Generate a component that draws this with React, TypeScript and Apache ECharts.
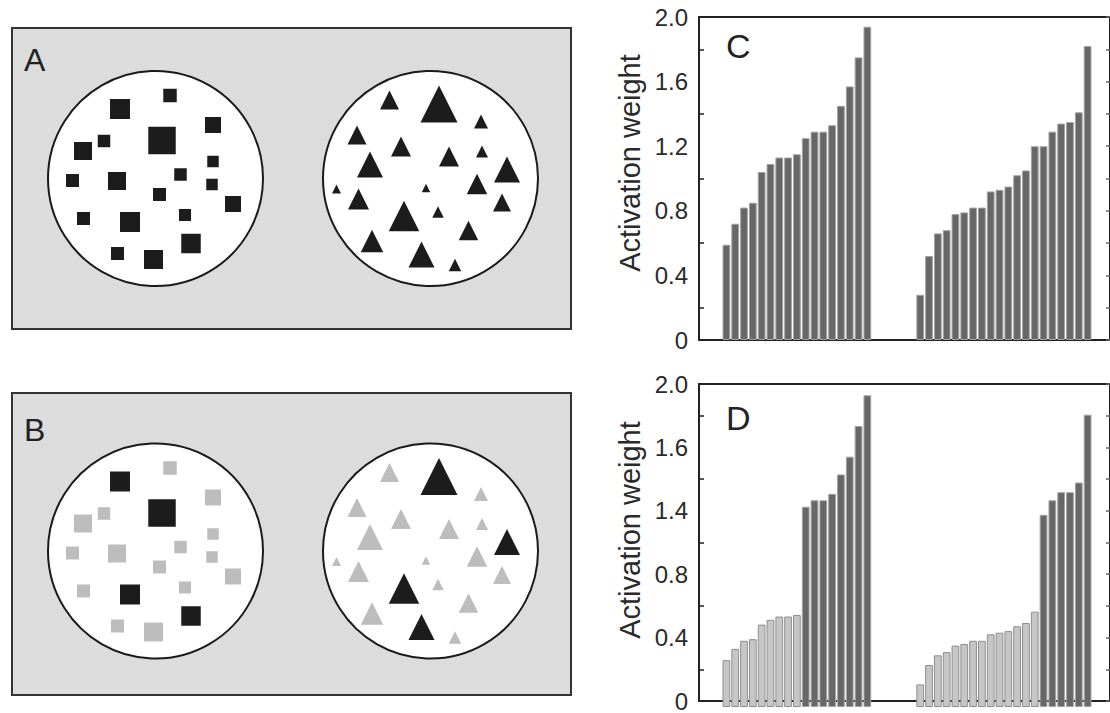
import React, { useEffect, useRef } from "react";
import * as echarts from "echarts";

// ---------- Data ----------
const cSquareUnits = ["s1","s2","s3","s4","s5","s6","s7","s8","s9","s10","s11","s12","s13","s14","s15","s16","s17"];
const cTriangleUnits = ["t1","t2","t3","t4","t5","t6","t7","t8","t9","t10","t11","t12","t13","t14","t15","t16","t17","t18","t19","t20"];
const gapSlots = ["gap1","gap2","gap3","gap4","gap5"];

// Panel C: activation weights, sorted
const cSquareWeights = [0.59, 0.72, 0.82, 0.85, 1.04, 1.09, 1.13, 1.13, 1.15, 1.25, 1.29, 1.29, 1.33, 1.45, 1.57, 1.75, 1.94];
const cTriangleWeights = [0.28, 0.52, 0.66, 0.68, 0.78, 0.79, 0.82, 0.82, 0.92, 0.93, 0.95, 1.02, 1.05, 1.2, 1.2, 1.29, 1.34, 1.35, 1.41, 1.82];

// Panel D: low (grey) and high (dark) activation weights
const dSquareLow = [0.29, 0.36, 0.41, 0.42, 0.51, 0.54, 0.56, 0.56, 0.57];
const dSquareHigh = [1.24, 1.28, 1.28, 1.32, 1.44, 1.55, 1.74, 1.93];
const dTriangleLow = [0.14, 0.26, 0.32, 0.34, 0.38, 0.39, 0.41, 0.41, 0.45, 0.46, 0.47, 0.5, 0.52, 0.59];
const dTriangleHigh = [1.19, 1.28, 1.33, 1.33, 1.39, 1.81];

// Tick labels as printed
const cTickLabels = ["0", "0.4", "0.8", "1.2", "1.6", "2.0"];
const dTickLabels = ["0", "0.4", "0.8", "1.4", "1.6", "2.0"];

const yTitle = "Activation weight";

// ---------- Schematic stimuli (illustration geometry, relative to circle centre) ----------
// [dx, dy, size, highlighted-in-B]
const squares: [number, number, number, number][] = [
  [-35.5, -69.5, 20, 1], [14.5, -83, 13.5, 0], [57.5, -53.5, 16, 0], [6.5, -38, 27.5, 1],
  [-72.5, -27.5, 18, 0], [-51.5, -37.5, 12.5, 0], [57.5, -17, 11.5, 0], [-83, 2, 13, 0],
  [-38.5, 2.5, 18, 0], [25, -4, 12.5, 0], [56.5, 6, 11.5, 0], [4, 16, 13, 0],
  [77.5, 25.5, 16, 0], [-72, 40, 13, 0], [-25.5, 43.5, 20, 1], [29.5, 36.5, 12, 0],
  [35.5, 65, 19.5, 1], [-38, 75, 13, 0], [-2, 81, 19, 0],
];
const triangles: [number, number, number, number][] = [
  [-41, -78.5, 19, 0], [8.5, -74.5, 37, 1], [50.5, -57, 14, 0], [-73.5, -43.5, 19, 0],
  [-29.5, -32, 20, 0], [18.5, -22, 20, 0], [51.5, -27, 12, 0], [-60.5, -14, 26, 0],
  [76.5, -9, 26, 1], [-94, 10.5, 9, 0], [-4.5, 9.5, 8.5, 0], [46.5, 5.5, 20.5, 0],
  [-72, 20.5, 21, 0], [71.5, 24, 18, 0], [-26.5, 37.5, 30.5, 1], [7.5, 33.5, 11.5, 0],
  [38, 52, 19.5, 0], [-58.5, 62.5, 22.5, 0], [-9, 76, 26, 1], [24.5, 86.5, 12.5, 0],
];

const FONT = "Liberation Sans, Arial, Helvetica, sans-serif";
const BLACK = "#1c1c1c";
const GREY_SHAPE = "#bdbdbd";
const DARK_BAR = "#676767";
const LIGHT_BAR = "#c6c6c6";

function panelGraphics(top: number, height: number, label: string, labelY: number, cy: number, highlightMode: boolean) {
  const els: any[] = [];
  els.push({
    type: "rect",
    shape: { x: 12, y: top, width: 559, height },
    style: { fill: "#dcdcdc", stroke: "#333", lineWidth: 2 },
  });
  els.push({
    type: "text",
    x: 24,
    y: labelY,
    style: { text: label, font: `32px ${FONT}`, fill: "#222", align: "left", verticalAlign: "middle" },
  });
  const leftC = [155.5, cy];
  const rightC = [430.5, cy];
  els.push({ type: "circle", shape: { cx: leftC[0], cy: leftC[1], r: 107.5 }, style: { fill: "#fff", stroke: "#1a1a1a", lineWidth: 2 } });
  els.push({ type: "circle", shape: { cx: rightC[0], cy: rightC[1], r: 107.5 }, style: { fill: "#fff", stroke: "#1a1a1a", lineWidth: 2 } });
  squares.forEach(([dx, dy, s, hi]) => {
    const fill = !highlightMode || hi ? BLACK : GREY_SHAPE;
    els.push({
      type: "rect",
      shape: { x: leftC[0] + dx - s / 2, y: leftC[1] + dy - s / 2, width: s, height: s },
      style: { fill },
    });
  });
  triangles.forEach(([dx, dy, s, hi]) => {
    const fill = !highlightMode || hi ? BLACK : GREY_SHAPE;
    const cx = rightC[0] + dx;
    const cyy = rightC[1] + dy;
    els.push({
      type: "polygon",
      shape: { points: [[cx, cyy - s / 2], [cx + s / 2, cyy + s / 2], [cx - s / 2, cyy + s / 2]] },
      style: { fill },
    });
  });
  return els;
}

export default function App() {
  const ref = useRef<HTMLDivElement>(null);

  useEffect(() => {
    if (!ref.current) return;
    const chart = echarts.init(ref.current, undefined, { renderer: "svg" });

    const categories = [...cSquareUnits, ...gapSlots, ...cTriangleUnits];
    const gapDash = gapSlots.map(() => "-");
    const cData = [...cSquareWeights, ...gapDash, ...cTriangleWeights];
    const dLight = [
      ...dSquareLow, ...dSquareHigh.map(() => "-"), ...gapDash,
      ...dTriangleLow, ...dTriangleHigh.map(() => "-"),
    ];
    const dDark = [
      ...dSquareLow.map(() => "-"), ...dSquareHigh, ...gapDash,
      ...dTriangleLow.map(() => "-"), ...dTriangleHigh,
    ];

    const frameTop = [17, 384];
    const frameH = 323;

    const grids: any[] = [];
    const xAxes: any[] = [];
    const yAxes: any[] = [];
    const axisLineStyle = { color: "#222", width: 2 };

    frameTop.forEach((t, i) => {
      const labels = i === 0 ? cTickLabels : dTickLabels;
      grids.push({ left: 699, top: t, width: 412, height: frameH });
      grids.push({ left: 722, top: t, width: 370, height: frameH });
      const fg = i * 2;
      const bg = i * 2 + 1;
      xAxes.push({
        gridIndex: fg, type: "value", min: 0, max: 1, position: "bottom",
        axisLine: { show: true, onZero: false, lineStyle: axisLineStyle },
        axisTick: { show: false }, axisLabel: { show: false }, splitLine: { show: false },
      });
      xAxes.push({
        gridIndex: fg, type: "value", min: 0, max: 1, position: "top",
        axisLine: { show: true, onZero: false, lineStyle: axisLineStyle },
        axisTick: { show: false }, axisLabel: { show: false }, splitLine: { show: false },
      });
      xAxes.push({
        gridIndex: bg, type: "category", data: categories,
        axisLine: { show: false }, axisTick: { show: false }, axisLabel: { show: false }, splitLine: { show: false },
      });
      yAxes.push({
        gridIndex: fg, type: "value", min: 0, max: 2, interval: 0.4, position: "left",
        axisLine: { show: true, onZero: false, lineStyle: axisLineStyle },
        axisTick: { show: false, inside: true },
        minorTick: { show: true, splitNumber: 2, length: 5, lineStyle: { color: "#222", width: 1.5 } },
        axisLabel: {
          show: true, margin: 11, fontSize: 24, fontFamily: FONT, color: "#2a2a2a",
          formatter: (v: number) => labels[Math.round(v / 0.4)] ?? "",
        },
        splitLine: { show: false },
      });
      yAxes.push({
        gridIndex: fg, type: "value", min: 0, max: 2, interval: 0.2, position: "right",
        axisLine: { show: true, onZero: false, lineStyle: axisLineStyle },
        axisTick: { show: true, inside: true, length: 4, lineStyle: { color: "#666", width: 1.5 } },
        axisLabel: { show: false }, splitLine: { show: false },
      });
      yAxes.push({
        gridIndex: bg, type: "value", min: 0, max: 2,
        axisLine: { show: false }, axisTick: { show: false }, axisLabel: { show: false }, splitLine: { show: false },
      });
    });

    const barBase = {
      type: "bar",
      barCategoryGap: "12%",
      barGap: "-100%",
      silent: true,
    };

    const series: any[] = [
      {
        ...barBase, name: "C", xAxisIndex: 2, yAxisIndex: 2, data: cData,
        itemStyle: { color: DARK_BAR, borderColor: "#a3a3a3", borderWidth: 1 },
      },
      {
        ...barBase, name: "D low", xAxisIndex: 5, yAxisIndex: 5, data: dLight,
        itemStyle: { color: LIGHT_BAR, borderColor: "#8f8f8f", borderWidth: 1 },
      },
      {
        ...barBase, name: "D high", xAxisIndex: 5, yAxisIndex: 5, data: dDark,
        itemStyle: { color: DARK_BAR, borderColor: "#a3a3a3", borderWidth: 1 },
      },
    ];

    const graphics: any[] = [
      ...panelGraphics(28, 301, "A", 60, 178.5, false),
      ...panelGraphics(393, 302, "B", 430, 551, true),
      {
        type: "text", x: 726, y: 46,
        style: { text: "C", font: `34px ${FONT}`, fill: "#222", align: "left", verticalAlign: "middle" },
      },
      {
        type: "text", x: 726, y: 418,
        style: { text: "D", font: `34px ${FONT}`, fill: "#222", align: "left", verticalAlign: "middle" },
      },
      {
        type: "text", x: 630, y: 163, rotation: Math.PI / 2,
        style: { text: yTitle, font: `29px ${FONT}`, fill: "#2a2a2a", align: "center", verticalAlign: "middle" },
      },
      {
        type: "text", x: 630, y: 530, rotation: Math.PI / 2,
        style: { text: yTitle, font: `29px ${FONT}`, fill: "#2a2a2a", align: "center", verticalAlign: "middle" },
      },
    ];

    chart.setOption({
      animation: false,
      backgroundColor: "#ffffff",
      grid: grids,
      xAxis: xAxes,
      yAxis: yAxes,
      series,
      graphic: { elements: graphics },
    });

    return () => chart.dispose();
  }, []);

  return (
    <div
      ref={ref}
      style={{ position: "absolute", left: 0, top: 0, width: 1110, height: 713, background: "#fff" }}
    />
  );
}
